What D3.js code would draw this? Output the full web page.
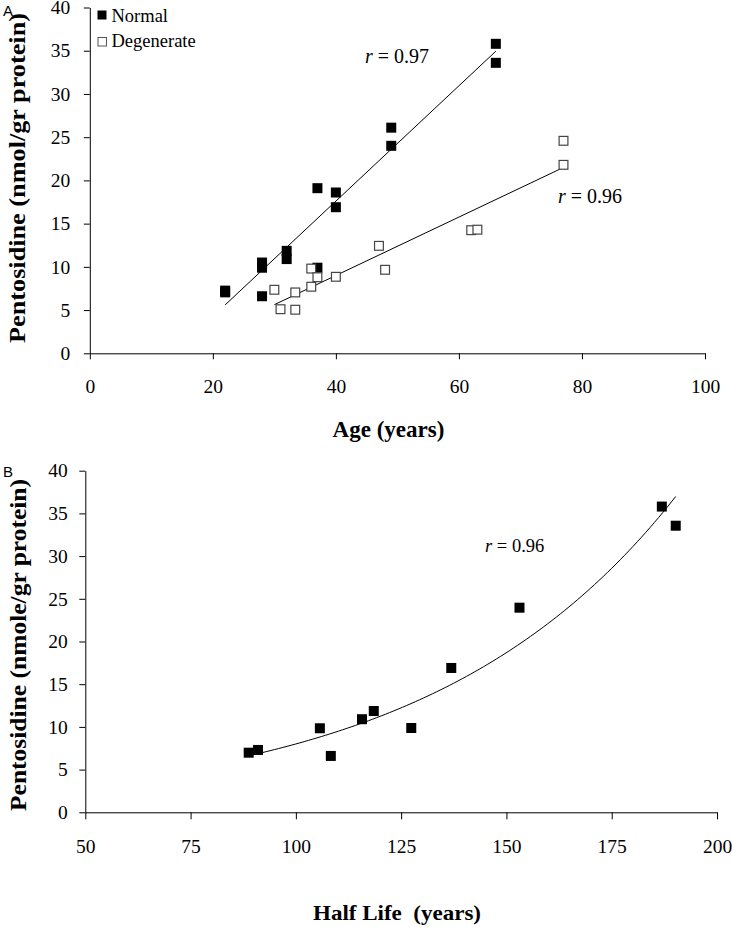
<!DOCTYPE html>
<html><head><meta charset="utf-8">
<script src="https://cdn.jsdelivr.net/npm/d3@7"></script>
<style>
html,body{margin:0;padding:0;background:#fff;}
svg text{font-family:"Liberation Serif","Times New Roman",serif;fill:#000;}
</style></head>
<body>
<svg id="c" width="732" height="927"></svg>
<script>
// ---- data ----
const normalAge   = [22, 22, 28, 28, 28, 32, 32, 37, 37, 40, 40, 49, 49, 66, 66];
const normalPent  = [7.05, 7.25, 10.5, 9.9, 6.6, 11.85, 10.9, 19.1, 9.9, 18.6, 16.9, 26.1, 24.0, 35.8, 33.6];
const degenAge    = [30, 31, 33.4, 33.4, 36, 36, 37, 40, 47, 48, 62, 63, 77, 77];
const degenPent   = [7.35, 5.1, 7.04, 5.04, 7.7, 9.8, 8.8, 8.85, 12.43, 9.66, 14.24, 14.3, 24.58, 21.8];
const halfLife    = [88.8, 91, 105.7, 108.3, 115.7, 118.5, 127.4, 136.9, 153.1, 186.9, 190.2];
const halfPent    = [6.98, 7.3, 9.84, 6.6, 10.9, 11.86, 9.87, 16.9, 23.96, 35.8, 33.56];
const ageTicks    = [0, 20, 40, 60, 80, 100];
const halfTicks   = [50, 75, 100, 125, 150, 175, 200];
const pentTicks   = [0, 5, 10, 15, 20, 25, 30, 35, 40];
const seriesNames = ["Normal", "Degenerate"];
const rLabels     = ["0.97", "0.96", "0.96"];

const svg = d3.select("#c");

function linFit(xs, ys){
  const n = xs.length, mx = d3.mean(xs), my = d3.mean(ys);
  let sxy = 0, sxx = 0;
  for (let i=0;i<n;i++){ sxy += (xs[i]-mx)*(ys[i]-my); sxx += (xs[i]-mx)**2; }
  const b = sxy/sxx; return {a: my - b*mx, b};
}

// ---------- Panel A ----------
const xA = d3.scaleLinear().domain([0,100]).range([89.8,705]);
const yA = d3.scaleLinear().domain([0,40]).range([353.3,7.5]);

const gA = svg.append("g");
const axAy = gA.append("g").attr("transform",`translate(${xA(0)},0)`)
  .call(d3.axisLeft(yA).tickValues(pentTicks).tickSize(6).tickSizeOuter(0).tickPadding(13.5).tickFormat(d3.format("d")));
const axAx = gA.append("g").attr("transform",`translate(0,${yA(0)})`)
  .call(d3.axisBottom(xA).tickValues(ageTicks).tickSize(6).tickSizeOuter(0).tickFormat(d3.format("d")));
axAx.selectAll("text").attr("y",40).attr("dy",0);
[axAy, axAx].forEach(a=>{
  a.attr("font-family",null);
  a.selectAll("text").style("font-size","19.5px").style("font-family",'"Liberation Serif","Times New Roman",serif').attr("fill","#000");
  a.selectAll("path,line").attr("stroke","#000").attr("stroke-width",1);
});

// regression lines
[[normalAge, normalPent],[degenAge, degenPent]].forEach(([xs,ys])=>{
  const f = linFit(xs,ys), x0 = d3.min(xs), x1 = d3.max(xs);
  gA.append("line").attr("x1",xA(x0)).attr("y1",yA(f.a+f.b*x0))
    .attr("x2",xA(x1)).attr("y2",yA(f.a+f.b*x1)).attr("stroke","#000").attr("stroke-width",1);
});

const S = 10;
gA.selectAll("rect.n").data(normalAge.map((x,i)=>[x,normalPent[i]])).join("rect")
  .attr("x",d=>xA(d[0])-S/2).attr("y",d=>yA(d[1])-S/2).attr("width",S).attr("height",S).attr("fill","#000");
gA.selectAll("rect.d").data(degenAge.map((x,i)=>[x,degenPent[i]])).join("rect")
  .attr("x",d=>xA(d[0])-S/2+0.6).attr("y",d=>yA(d[1])-S/2+0.6).attr("width",S-1.2).attr("height",S-1.2)
  .attr("fill","#fff").attr("stroke","#444").attr("stroke-width",1.2);

// legend
gA.append("rect").attr("x",97.5).attr("y",10.5).attr("width",9).attr("height",9).attr("fill","#000");
gA.append("rect").attr("x",98).attr("y",37.5).attr("width",8.5).attr("height",8.5).attr("fill","#fff").attr("stroke","#555").attr("stroke-width",1);
gA.append("text").attr("x",111.5).attr("y",21.5).style("font-size","18.5px").text(seriesNames[0]);
gA.append("text").attr("x",111.5).attr("y",46.5).style("font-size","18.5px").text(seriesNames[1]);

function rText(g,x,y,val,size){
  const t = g.append("text").attr("x",x).attr("y",y).style("font-size",size+"px");
  t.append("tspan").style("font-style","italic").text("r");
  t.append("tspan").text(" = "+val);
}
rText(gA,365,63,rLabels[0],20);
rText(gA,558,203,rLabels[1],20);

gA.append("text").attr("x",388.5).attr("y",437).attr("text-anchor","middle")
  .style("font-size","23px").style("font-weight","bold").text("Age (years)");
gA.append("text").attr("transform","translate(25,178) rotate(-90)").attr("text-anchor","middle")
  .attr("textLength",330).attr("lengthAdjust","spacingAndGlyphs")
  .style("font-size","23px").style("font-weight","bold").text("Pentosidine (nmol/gr protein)");
gA.append("text").attr("x",3).attr("y",15.5).style("font-family",'"Liberation Sans",Arial,sans-serif').style("font-size","15px").text("A");

// ---------- Panel B ----------
const xB = d3.scaleLinear().domain([50,200]).range([85.3,717]);
const yB = d3.scaleLinear().domain([0,40]).range([812.3,470.7]);
const gB = svg.append("g");
const axBy = gB.append("g").attr("transform",`translate(${xB(50)},0)`)
  .call(d3.axisLeft(yB).tickValues(pentTicks).tickSize(6).tickSizeOuter(0).tickPadding(11.5).tickFormat(d3.format("d")));
const axBx = gB.append("g").attr("transform",`translate(0,${yB(0)})`)
  .call(d3.axisBottom(xB).tickValues(halfTicks).tickSize(7).tickSizeOuter(0).tickFormat(d3.format("d")));
axBx.selectAll("text").attr("y",41).attr("dy",0);
[axBy, axBx].forEach(a=>{
  a.attr("font-family",null);
  a.selectAll("text").style("font-size","19.5px").style("font-family",'"Liberation Serif","Times New Roman",serif').attr("fill","#000");
  a.selectAll("path,line").attr("stroke","#000").attr("stroke-width",1);
});

// exponential trendline (fit on ln y)
const ef = linFit(halfLife, halfPent.map(Math.log));
const hx0 = d3.min(halfLife), hx1 = d3.max(halfLife);
const curvePts = d3.range(0,101).map(i=>{ const x = hx0+(hx1-hx0)*i/100; return [x, Math.exp(ef.a+ef.b*x)]; });
gB.append("path").attr("d", d3.line().x(d=>xB(d[0])).y(d=>yB(d[1]))(curvePts))
  .attr("fill","none").attr("stroke","#000").attr("stroke-width",1);

gB.selectAll("rect.h").data(halfLife.map((x,i)=>[x,halfPent[i]])).join("rect")
  .attr("x",d=>xB(d[0])-S/2).attr("y",d=>yB(d[1])-S/2).attr("width",S).attr("height",S).attr("fill","#000");

rText(gB,485,552,rLabels[2],18.5);

gB.append("text").attr("x",397).attr("y",920).attr("text-anchor","middle")
  .attr("textLength",168).attr("lengthAdjust","spacingAndGlyphs")
  .style("font-size","22px").style("font-weight","bold").style("white-space","pre").text("Half Life  (years)");
gB.append("text").attr("transform","translate(26,645) rotate(-90)").attr("text-anchor","middle")
  .attr("textLength",332).attr("lengthAdjust","spacingAndGlyphs")
  .style("font-size","23px").style("font-weight","bold").text("Pentosidine (nmole/gr protein)");
gB.append("text").attr("x",3).attr("y",477).style("font-family",'"Liberation Sans",Arial,sans-serif').style("font-size","15px").text("B");
</script>
</body></html>
